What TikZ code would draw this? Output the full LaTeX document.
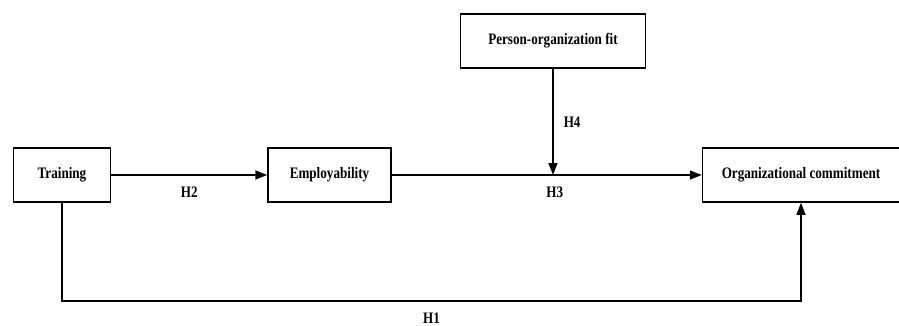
\documentclass[tikz,border=0pt]{standalone}
\usepackage{fontspec}
\setmainfont{Liberation Serif}[FakeStretch=0.82]
\usetikzlibrary{positioning,arrows.meta}
\tikzset{
  box/.style={draw, line width=1.5pt, minimum height=54pt, inner sep=2pt,
    font=\fontsize{16}{18}\selectfont\bfseries},
  hyp/.style={inner sep=1pt, font=\fontsize{16}{18}\selectfont\bfseries},
  link/.style={line width=1.5pt, -{Triangle[length=12pt,width=9pt]}}
}
\begin{document}
\begin{tikzpicture}
            \useasboundingbox (0,0) rectangle (899pt,325pt);
            \node[box, minimum width=97pt] (train) at (62pt,150pt) {Training};
            \node[box, minimum width=123pt, right=156pt of train] (employ) {Employability};
            \node[box, minimum width=197pt, right=310pt of employ] (commit) {Organizational commitment};
            \node[box, minimum width=185pt] (fit) at (553pt,284pt) {Person-organization fit};

            \draw[link] (train) -- node[hyp, below=10pt] {H2} (employ);
            \draw[link] (employ) -- node[hyp, below=10pt, pos=0.526] {H3} (commit);
            \draw[link] (fit) -- node[hyp, right=9pt] {H4} (fit |- employ);
            \draw[link] (train.south) -- ++(0,-98pt) -| node[hyp, below=10pt, pos=0.25] {H1} (commit.south);
        \end{tikzpicture}
\end{document}
